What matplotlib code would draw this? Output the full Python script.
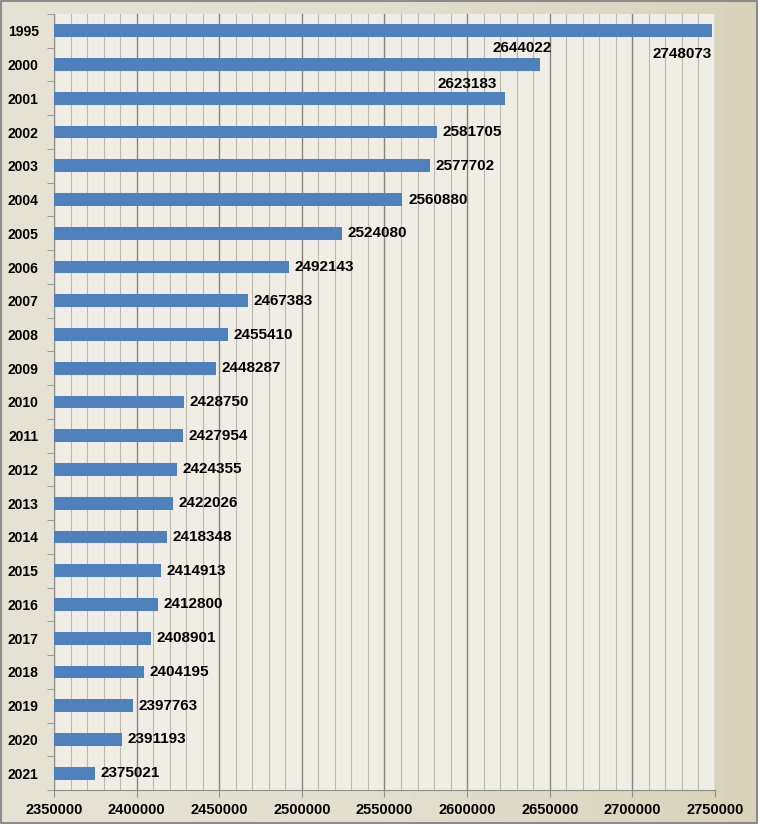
import numpy as np
import matplotlib
matplotlib.use("Agg")
from matplotlib import pyplot as plt
from matplotlib.ticker import MultipleLocator, StrMethodFormatter

years = ["1995", "2000", "2001", "2002", "2003", "2004", "2005", "2006",
         "2007", "2008", "2009", "2010", "2011", "2012", "2013", "2014",
         "2015", "2016", "2017", "2018", "2019", "2020", "2021"]
values = [2748073, 2644022, 2623183, 2581705, 2577702, 2560880, 2524080,
          2492143, 2467383, 2455410, 2448287, 2428750, 2427954, 2424355,
          2422026, 2418348, 2414913, 2412800, 2408901, 2404195, 2397763,
          2391193, 2375021]

plt.rcParams["font.family"] = ["Liberation Sans", "DejaVu Sans"]

fig = plt.figure(figsize=(7.58, 8.24), dpi=100)

# beige gradient background for the whole chart
bg = fig.add_axes([0, 0, 1, 1], zorder=-10)
grad = np.linspace(0, 1, 256).reshape(1, -1)
bg.imshow(grad, aspect="auto", extent=[0, 1, 0, 1],
          cmap=matplotlib.colors.LinearSegmentedColormap.from_list(
              "beige", ["#e6e3d5", "#e3dfcf", "#d8d3b9"]))
bg.set_xlim(0, 1)
bg.set_ylim(0, 1)
bg.axis("off")
bg.add_patch(plt.Rectangle((0.001, 0.001), 0.998, 0.998, fill=False,
                           edgecolor="#8c8c8c", linewidth=1.5,
                           transform=bg.transAxes))

ax = fig.add_axes([54 / 758, 34 / 824, 661 / 758, 776 / 824])
ax.set_facecolor("#efede4")

y = np.arange(len(years))
ax.barh(y, values, height=0.38, color="#4f81bd", zorder=3)

ax.set_xlim(2350000, 2750000)
ax.set_ylim(len(years) - 0.5, -0.5)

ax.xaxis.set_major_locator(MultipleLocator(50000))
ax.xaxis.set_minor_locator(MultipleLocator(10000))
ax.xaxis.set_major_formatter(StrMethodFormatter("{x:.0f}"))
ax.grid(which="major", axis="x", color="#85857f", linewidth=1.0, zorder=1)
ax.grid(which="minor", axis="x", color="#b9b8ae", linewidth=0.8, zorder=1)
ax.tick_params(axis="x", which="major", length=5, color="#8f8f8a",
               labelsize=10.5, pad=4)
ax.tick_params(axis="x", which="minor", length=0)
for lab in ax.get_xticklabels():
    lab.set_fontweight("bold")

ax.set_yticks(y)
ax.set_yticklabels(years, fontweight="bold", fontsize=10)
ax.set_yticks(np.arange(len(years) + 1) - 0.5, minor=True)
ax.tick_params(axis="y", which="major", length=0, pad=11)
ax.tick_params(axis="y", which="minor", length=5, color="#8f8f8a")

for s in ["top", "right"]:
    ax.spines[s].set_visible(False)
for s in ["left", "bottom"]:
    ax.spines[s].set_color("#8f8f8a")

# value labels; the two top ones sit under the bars as in the original
for i, v in enumerate(values):
    if i == 0:
        ax.annotate(f"{v}", (v, i), xytext=(0, -17), textcoords="offset points",
                    ha="right", va="center", fontsize=11, fontweight="bold")
    elif i == 1:
        ax.annotate(f"{v}", (v, i), xytext=(9, 12), textcoords="offset points",
                    ha="right", va="center", fontsize=11, fontweight="bold")
    elif i == 2:
        ax.annotate(f"{v}", (v, i), xytext=(-6, 10.5), textcoords="offset points",
                    ha="right", va="center", fontsize=11, fontweight="bold")
    else:
        ax.annotate(f"{v}", (v, i), xytext=(4, 0), textcoords="offset points",
                    ha="left", va="center", fontsize=11, fontweight="bold")

fig.savefig("out.png", dpi=100)
